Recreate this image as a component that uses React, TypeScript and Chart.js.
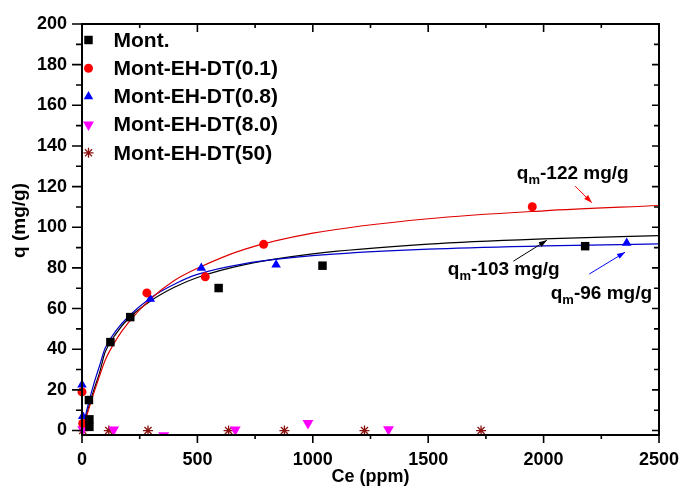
import React, { useEffect, useRef } from 'react';
import { Chart, registerables } from 'chart.js';
import { drawPoint } from 'chart.js/helpers';

Chart.register(...registerables);

// ---- axes ----
const xTicks = [0, 500, 1000, 1500, 2000, 2500];
const xMinorTicks = [250, 750, 1250, 1750, 2250];
const yTicks = [0, 20, 40, 60, 80, 100, 120, 140, 160, 180, 200];
const yMinorTicks = [10, 30, 50, 70, 90, 110, 130, 150, 170, 190];
const yTitle = 'q (mg/g)';
const xTitle = 'Ce (ppm)';

// ---- measured points (Ce ppm, q mg/g) ----
const montC = [30, 32, 32, 123, 209, 592, 1042, 2180];
const montQ = [15.0, 5.5, 1.8, 43.5, 55.8, 70.1, 81.1, 90.7];

const m01C = [0, 3, 281, 534, 787, 1951];
const m01Q = [19.0, 3.5, 67.7, 75.6, 91.6, 110.1];

const m08C = [0, 3, 296, 517, 841, 2360];
const m08Q = [22.5, 7.0, 64.7, 80.0, 81.6, 92.3];

const m80C = [3, 137, 354, 664, 979, 1328];
const m80Q = [0.5, 0.4, -2.45, 0.4, 3.6, 0.6];

const m50C = [3, 116, 286, 635, 877, 1224, 1729];
const m50Q = [0, 0, 0, 0, 0, 0, 0];

// ---- fitted curves ----
const fitC = [0, 10, 25, 50, 75, 100, 150, 200, 300, 400, 500, 700, 1000, 1500, 2000, 2500];
const fitRed = [0, 3.5, 9.0, 18.0, 26.5, 34.5, 45.0, 53.0, 65.0, 73.8, 79.8, 89.0, 97.1, 104.2, 108.1, 110.7];
const fitBlack = [0, 4.0, 10.0, 19.5, 28.0, 38.5, 48.0, 55.0, 64.0, 70.5, 75.3, 81.5, 86.9, 91.7, 94.3, 95.9];
const fitBlue = [0, 4.8, 12.0, 22.5, 31.5, 40.5, 49.5, 56.0, 65.5, 72.0, 76.8, 82.0, 86.0, 89.2, 90.8, 91.8];

const legendLabels = ['Mont.', 'Mont-EH-DT(0.1)', 'Mont-EH-DT(0.8)', 'Mont-EH-DT(8.0)', 'Mont-EH-DT(50)'];

// annotations: label parts and anchor/arrow in data units
const annotations = [
  { q: 'q', sub: 'm', rest: '-122 mg/g', tx: 1884, ty: 123.9, color: '#ff0000', ax0: 2137, ay0: 120.2, ax1: 2209, ay1: 112.1 },
  { q: 'q', sub: 'm', rest: '-103 mg/g', tx: 1585, ty: 76.7, color: '#000000', ax0: 1869, ay0: 83.3, ax1: 2014, ay1: 93.6 },
  { q: 'q', sub: 'm', rest: '-96 mg/g', tx: 2031, ty: 64.9, color: '#0000ff', ax0: 2198, ay0: 77.0, ax1: 2353, ay1: 87.7 },
];

const FONT = "'Liberation Sans', Arial, Helvetica, sans-serif";

const zip = (xs: number[], ys: number[]) => xs.map((x, i) => ({ x, y: ys[i] }));

const framePlugin = {
  id: 'frameTicks',
  afterDatasetsDraw(chart: any) {
    const { ctx, chartArea, scales } = chart;
    const { left, right, top, bottom } = chartArea;
    const xs = scales.x;
    const ys = scales.y;
    ctx.save();
    ctx.strokeStyle = '#000';
    ctx.lineWidth = 2;
    ctx.strokeRect(left, top, right - left, bottom - top);
    ctx.lineWidth = 1.6;
    ctx.beginPath();
    for (const v of xTicks) {
      const px = xs.getPixelForValue(v);
      ctx.moveTo(px, bottom); ctx.lineTo(px, bottom + 8);
      ctx.moveTo(px, top); ctx.lineTo(px, top + 8);
    }
    for (const v of xMinorTicks) {
      const px = xs.getPixelForValue(v);
      ctx.moveTo(px, bottom); ctx.lineTo(px, bottom + 4);
      ctx.moveTo(px, top); ctx.lineTo(px, top + 4);
    }
    for (const v of yTicks) {
      const py = ys.getPixelForValue(v);
      ctx.moveTo(left - 10, py); ctx.lineTo(left, py);
      ctx.moveTo(right - 7, py); ctx.lineTo(right, py);
    }
    for (const v of yMinorTicks) {
      const py = ys.getPixelForValue(v);
      ctx.moveTo(left - 6, py); ctx.lineTo(left, py);
      ctx.moveTo(right - 5, py); ctx.lineTo(right, py);
    }
    ctx.stroke();

    // y axis title
    ctx.save();
    ctx.translate(20, (top + bottom) / 2 - 9);
    ctx.rotate(-Math.PI / 2);
    ctx.fillStyle = '#000';
    ctx.font = `bold 19px ${FONT}`;
    ctx.textAlign = 'center';
    ctx.textBaseline = 'middle';
    ctx.fillText(yTitle, 0, 0);
    ctx.restore();

    // annotations
    for (const a of annotations) {
      const x0 = xs.getPixelForValue(a.ax0);
      const y0 = ys.getPixelForValue(a.ay0);
      const x1 = xs.getPixelForValue(a.ax1);
      const y1 = ys.getPixelForValue(a.ay1);
      ctx.strokeStyle = a.color;
      ctx.fillStyle = a.color;
      ctx.lineWidth = 1;
      ctx.beginPath();
      ctx.moveTo(x0, y0);
      ctx.lineTo(x1, y1);
      ctx.stroke();
      const ang = Math.atan2(y1 - y0, x1 - x0);
      const hl = 8, hw = 2.8;
      ctx.beginPath();
      ctx.moveTo(x1, y1);
      ctx.lineTo(x1 - hl * Math.cos(ang) + hw * Math.sin(ang), y1 - hl * Math.sin(ang) - hw * Math.cos(ang));
      ctx.lineTo(x1 - hl * Math.cos(ang) - hw * Math.sin(ang), y1 - hl * Math.sin(ang) + hw * Math.cos(ang));
      ctx.closePath();
      ctx.fill();

      let tx = xs.getPixelForValue(a.tx);
      const ty = ys.getPixelForValue(a.ty);
      ctx.fillStyle = '#000';
      ctx.textBaseline = 'alphabetic';
      ctx.textAlign = 'left';
      ctx.font = `bold 19px ${FONT}`;
      ctx.fillText(a.q, tx, ty);
      tx += ctx.measureText(a.q).width;
      ctx.font = `bold 13px ${FONT}`;
      ctx.fillText(a.sub, tx, ty + 5);
      tx += ctx.measureText(a.sub).width;
      ctx.font = `bold 19px ${FONT}`;
      ctx.fillText(a.rest, tx, ty);
    }

    // legend
    const lx = left + 6.5;
    const ly0 = top + 16;
    ctx.font = `bold 21px ${FONT}`;
    ctx.textBaseline = 'middle';
    ctx.textAlign = 'left';
    for (let i = 0; i < legendLabels.length; i++) {
      const ds = chart.data.datasets[i];
      const y = ly0 + i * 28.2;
      ctx.fillStyle = ds.backgroundColor;
      ctx.strokeStyle = ds.borderColor;
      ctx.lineWidth = ds.pointBorderWidth ?? 1;
      drawPoint(ctx, { pointStyle: ds.pointStyle, rotation: ds.pointRotation || 0, radius: ds.pointRadius, borderWidth: ds.pointBorderWidth ?? 1 }, lx, y);
      ctx.fillStyle = '#000';
      ctx.fillText(legendLabels[i], left + 31.5, y + 1);
    }
    ctx.restore();
  },
};

export default function App() {
  const ref = useRef<HTMLCanvasElement | null>(null);
  useEffect(() => {
    if (!ref.current) return;
    const scatterBase = { showLine: false, clip: { left: 12, top: 12, right: 12, bottom: 0 } as any };
    const chart = new Chart(ref.current, {
      type: 'scatter',
      data: {
        datasets: [
          { ...scatterBase, label: legendLabels[0], data: zip(montC, montQ), pointStyle: 'rect', pointRadius: 6, pointBorderWidth: 0, backgroundColor: '#000000', borderColor: '#000000' },
          { ...scatterBase, label: legendLabels[1], data: zip(m01C, m01Q), pointStyle: 'circle', pointRadius: 4.5, pointBorderWidth: 0, backgroundColor: '#ff0000', borderColor: '#ff0000' },
          { ...scatterBase, label: legendLabels[2], data: zip(m08C, m08Q), pointStyle: 'triangle', pointRadius: 5.5, pointBorderWidth: 0, backgroundColor: '#0000ff', borderColor: '#0000ff' },
          { ...scatterBase, label: legendLabels[3], data: zip(m80C, m80Q), pointStyle: 'triangle', pointRotation: 180, pointRadius: 6.3, pointBorderWidth: 0, backgroundColor: '#ff00ff', borderColor: '#ff00ff' },
          { ...scatterBase, label: legendLabels[4], data: zip(m50C, m50Q), pointStyle: 'star', pointRadius: 5, pointBorderWidth: 1.3, backgroundColor: '#8b1010', borderColor: '#8b1010' },
          { label: 'fit-0.1', data: zip(fitC, fitRed), showLine: true, pointRadius: 0, borderColor: '#e00000', borderWidth: 1.2, cubicInterpolationMode: 'monotone', clip: 0 } as any,
          { label: 'fit-0.8', data: zip(fitC, fitBlue), showLine: true, pointRadius: 0, borderColor: '#0000c8', borderWidth: 1.2, cubicInterpolationMode: 'monotone', clip: 0 } as any,
          { label: 'fit-mont', data: zip(fitC, fitBlack), showLine: true, pointRadius: 0, borderColor: '#000000', borderWidth: 1.2, cubicInterpolationMode: 'monotone', clip: 0 } as any,
        ],
      },
      options: {
        responsive: false,
        animation: false,
        devicePixelRatio: 1,
        layout: { padding: { left: 0, top: 24, right: 23, bottom: 0 } },
        plugins: { legend: { display: false }, tooltip: { enabled: false } },
        scales: {
          x: {
            type: 'linear',
            min: 0,
            max: 2500,
            afterFit: (s: any) => { s.height = 53; s.paddingLeft = 0; s.paddingRight = 0; },
            afterBuildTicks: (s: any) => { s.ticks = xTicks.map((v) => ({ value: v })); },
            grid: { display: false, drawTicks: false },
            border: { display: false },
            ticks: { color: '#000', font: { family: FONT, size: 18, weight: 'bold' }, padding: 14, maxRotation: 0, callback: (v: any) => String(v) },
            title: { display: true, text: xTitle, color: '#000', font: { family: FONT, size: 18, weight: 'bold' }, padding: { top: 0, bottom: 0 } },
          },
          y: {
            type: 'linear',
            min: -2.2,
            max: 200,
            afterFit: (s: any) => { s.width = 82; s.paddingTop = 0; s.paddingBottom = 0; },
            afterBuildTicks: (s: any) => { s.ticks = yTicks.map((v) => ({ value: v })); },
            grid: { display: false, drawTicks: false },
            border: { display: false },
            ticks: { color: '#000', font: { family: FONT, size: 18, weight: 'bold' }, padding: 15, callback: (v: any) => String(v) },
            title: { display: false },
          },
        },
      },
      plugins: [framePlugin],
    } as any);
    return () => chart.destroy();
  }, []);
  return (
    <div style={{ position: 'absolute', left: 0, top: 0, width: 682, height: 488, background: '#fff' }}>
      <canvas ref={ref} width={682} height={488} style={{ width: 682, height: 488, display: 'block' }} />
    </div>
  );
}
